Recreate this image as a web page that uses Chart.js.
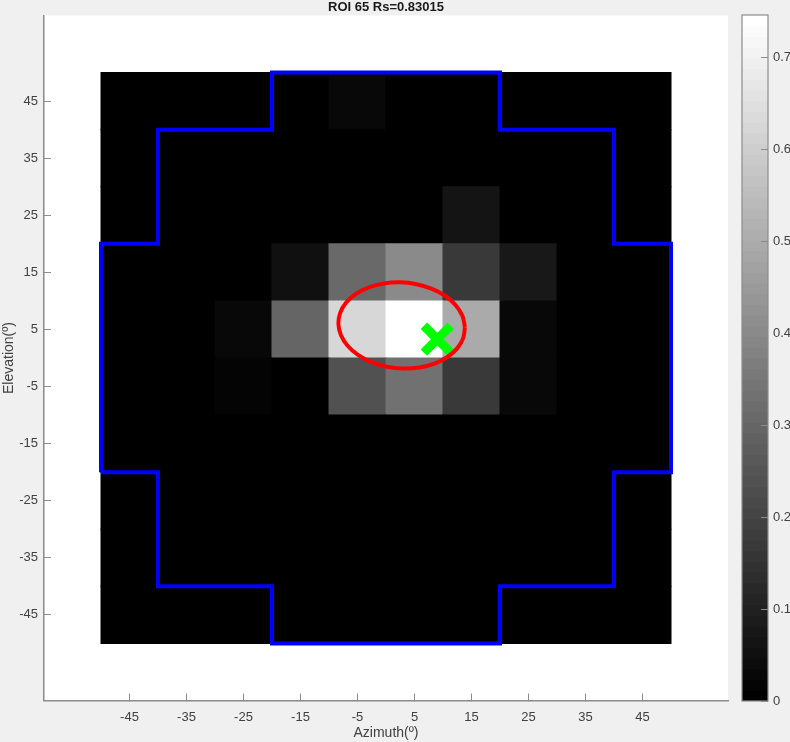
<!DOCTYPE html>
<html lang="en">
<head>
    <meta charset="UTF-8">
    <title>ROI 65</title>
    <style>
        body { margin: 0; background-color: #f0f0f0; overflow: hidden; }
        canvas { position: absolute; top: 0; }
        #map { left: 0; }
        #bar { left: 735px; }
    </style>
    <script src="https://cdn.jsdelivr.net/npm/chart.js"></script>
</head>
<body>
    <canvas id="map" width="790" height="742"></canvas>
    <canvas id="bar" width="55" height="742"></canvas>
    <script>
        const titleText = 'ROI 65 Rs=0.83015';
        const azimuth = [-45, -35, -25, -15, -5, 5, 15, 25, 35, 45];
        const elevation = [45, 35, 25, 15, 5, -5, -15, -25, -35, -45];
        const colorTicks = [0, 0.1, 0.2, 0.3, 0.4, 0.5, 0.6, 0.7];
        const colorMax = 0.7457;

        // one row per elevation, top to bottom
        const row45 = [0, 0, 0, 0, 0.025, 0, 0, 0, 0, 0];
        const row35 = [0, 0, 0, 0, 0, 0, 0, 0, 0, 0];
        const row25 = [0, 0, 0, 0, 0, 0, 0.064, 0, 0, 0];
        const row15 = [0, 0, 0, 0.053, 0.313, 0.404, 0.164, 0.076, 0, 0];
        const row5 = [0, 0, 0.02, 0.298, 0.632, 0.7457, 0.497, 0.023, 0, 0];
        const rowM5 = [0, 0, 0.015, 0, 0.234, 0.328, 0.17, 0.023, 0, 0];
        const rowM15 = [0, 0, 0, 0, 0, 0, 0, 0, 0, 0];
        const rowM25 = [0, 0, 0, 0, 0, 0, 0, 0, 0, 0];
        const rowM35 = [0, 0, 0, 0, 0, 0, 0, 0, 0, 0];
        const rowM45 = [0, 0, 0, 0, 0, 0, 0, 0, 0, 0];
        const rows = [row45, row35, row25, row15, row5, rowM5, rowM15, rowM25, rowM35, rowM45];

        const outlineX = [-50, -50, -40, -40, -20, -20, 20, 20, 40, 40, 50, 50, 40, 40, 20, 20, -20, -20, -40, -40, -50];
        const outlineY = [-20, 20, 20, 40, 40, 50, 50, 40, 40, 20, 20, -20, -20, -40, -40, -50, -50, -40, -40, -20, -20];

        const ellipseX = [13.85, 13.40, 12.23, 10.42, 8.07, 5.37, 2.49, -0.37, -3.03, -5.28, -6.99, -8.04, -8.35, -7.90, -6.73, -4.92, -2.57, 0.13, 3.01, 5.87, 8.53, 10.78, 12.49, 13.54, 13.85];
        const ellipseY = [5.44, 7.41, 9.25, 10.86, 12.11, 12.92, 13.25, 13.06, 12.37, 11.22, 9.71, 7.91, 5.96, 3.99, 2.15, 0.54, -0.71, -1.52, -1.85, -1.66, -0.97, 0.18, 1.69, 3.49, 5.44];

        const peakX = [9.0];
        const peakY = [3.3];

        const fontName = '"Liberation Sans", Arial, sans-serif';
        const textColor = '#404040';
        const axisColor = '#8c8c8c';

        // matlab gray(64)
        function grayColor(v) {
            const level = Math.round(Math.min(v / colorMax, 1) * 63) / 63;
            const c = Math.round(level * 255);
            return `rgb(${c}, ${c}, ${c})`;
        }

        function toPoints(xs, ys) {
            return xs.map((x, i) => ({ x: x, y: ys[i] }));
        }

        // labels must not push the plot area in
        function noPadding(scale) {
            scale.paddingTop = 0;
            scale.paddingBottom = 0;
            scale.paddingLeft = 0;
            scale.paddingRight = 0;
        }

        const cells = [];
        const cellColors = [];
        rows.forEach((row, r) => {
            row.forEach((value, c) => {
                cells.push({ x: azimuth[c], y: [elevation[r] - 5, elevation[r] + 5] });
                cellColors.push(grayColor(value));
            });
        });

        const whitePlot = {
            id: 'whitePlot',
            beforeDraw(chart) {
                const a = chart.chartArea;
                chart.ctx.save();
                chart.ctx.fillStyle = '#ffffff';
                chart.ctx.fillRect(a.left, a.top, a.width, a.height);
                chart.ctx.restore();
            }
        };

        const barFrame = {
            id: 'barFrame',
            afterDatasetsDraw(chart) {
                const a = chart.chartArea;
                chart.ctx.save();
                chart.ctx.strokeStyle = axisColor;
                chart.ctx.lineWidth = 1.2;
                chart.ctx.strokeRect(a.left, a.top, a.width, a.height);
                chart.ctx.restore();
            }
        };

        new Chart(document.getElementById('map'), {
            type: 'bar',
            data: {
                datasets: [
                    {
                        type: 'line',
                        data: toPoints(ellipseX, ellipseY),
                        borderColor: '#ff0000',
                        borderWidth: 4,
                        tension: 0.4,
                        pointRadius: 0,
                        order: 0
                    },
                    {
                        type: 'line',
                        data: toPoints(peakX, peakY),
                        showLine: false,
                        pointStyle: 'crossRot',
                        pointRadius: 19,
                        pointBorderColor: '#00ff00',
                        pointBorderWidth: 9,
                        order: 1
                    },
                    {
                        type: 'line',
                        data: toPoints(outlineX, outlineY),
                        borderColor: '#0000ff',
                        borderWidth: 4,
                        tension: 0,
                        pointRadius: 0,
                        order: 2
                    },
                    {
                        data: cells,
                        backgroundColor: cellColors,
                        borderWidth: 0,
                        inflateAmount: 0.5,
                        grouped: false,
                        barPercentage: 1,
                        categoryPercentage: 1,
                        order: 3
                    }
                ]
            },
            options: {
                responsive: false,
                animation: false,
                layout: { autoPadding: false, padding: { left: 0, right: 62, top: 0, bottom: 0 } },
                plugins: {
                    legend: { display: false },
                    tooltip: { enabled: false },
                    title: {
                        display: true,
                        text: titleText,
                        fullSize: false,
                        color: '#1a1a1a',
                        font: { family: fontName, size: 13, weight: 'bold', lineHeight: 1 },
                        padding: { top: 1, bottom: 1.5 }
                    }
                },
                scales: {
                    x: {
                        type: 'linear',
                        min: -60,
                        max: 60,
                        offset: false,
                        afterBuildTicks(scale) { scale.ticks = azimuth.map(v => ({ value: v })); },
                        afterFit(scale) { scale.height = 41.5; noPadding(scale); },
                        grid: { offset: false, drawOnChartArea: false, color: axisColor, tickLength: -7, tickWidth: 1 },
                        border: { color: axisColor, width: 1.5 },
                        ticks: { color: textColor, font: { family: fontName, size: 13 }, padding: 16, maxRotation: 0, autoSkip: false },
                        title: { display: true, text: 'Azimuth(º)', color: textColor, font: { family: fontName, size: 14 }, padding: 0 }
                    },
                    y: {
                        type: 'linear',
                        min: -60,
                        max: 60,
                        afterBuildTicks(scale) { scale.ticks = elevation.map(v => ({ value: v })); },
                        afterFit(scale) { scale.width = 44; noPadding(scale); },
                        grid: { drawOnChartArea: false, color: axisColor, tickLength: -7, tickWidth: 1 },
                        border: { color: axisColor, width: 1.5 },
                        ticks: { color: textColor, font: { family: fontName, size: 13 }, padding: 13, maxRotation: 0, autoSkip: false },
                        title: { display: true, text: 'Elevation(º)', color: textColor, font: { family: fontName, size: 14 }, padding: 1 }
                    }
                }
            },
            plugins: [whitePlot]
        });

        // colorbar, 64 gray levels
        const barLevels = [];
        const barColors = [];
        for (let i = 0; i < 64; i++) {
            barLevels.push({ x: 0, y: [i * colorMax / 64, (i + 1) * colorMax / 64] });
            barColors.push(grayColor(i * colorMax / 63));
        }

        new Chart(document.getElementById('bar'), {
            type: 'bar',
            data: {
                datasets: [{
                    data: barLevels,
                    backgroundColor: barColors,
                    borderWidth: 0,
                    inflateAmount: 0.5,
                    grouped: false,
                    barPercentage: 1,
                    categoryPercentage: 1
                }]
            },
            options: {
                responsive: false,
                animation: false,
                layout: { padding: { left: 7, right: 0, top: 15, bottom: 41 } },
                plugins: { legend: { display: false }, tooltip: { enabled: false } },
                scales: {
                    x: { type: 'linear', display: false, min: -0.5, max: 0.5, offset: false, grid: { offset: false } },
                    y: {
                        type: 'linear',
                        position: 'right',
                        min: 0,
                        max: colorMax,
                        afterBuildTicks(scale) { scale.ticks = colorTicks.map(v => ({ value: v })); },
                        afterFit(scale) { scale.width = 22; noPadding(scale); },
                        grid: { drawOnChartArea: false, color: axisColor, tickLength: -7, tickWidth: 1, z: 1 },
                        border: { display: false },
                        ticks: { color: textColor, font: { family: fontName, size: 13 }, padding: 12, maxRotation: 0, autoSkip: false }
                    }
                }
            },
            plugins: [barFrame]
        });
    </script>
</body>
</html>
